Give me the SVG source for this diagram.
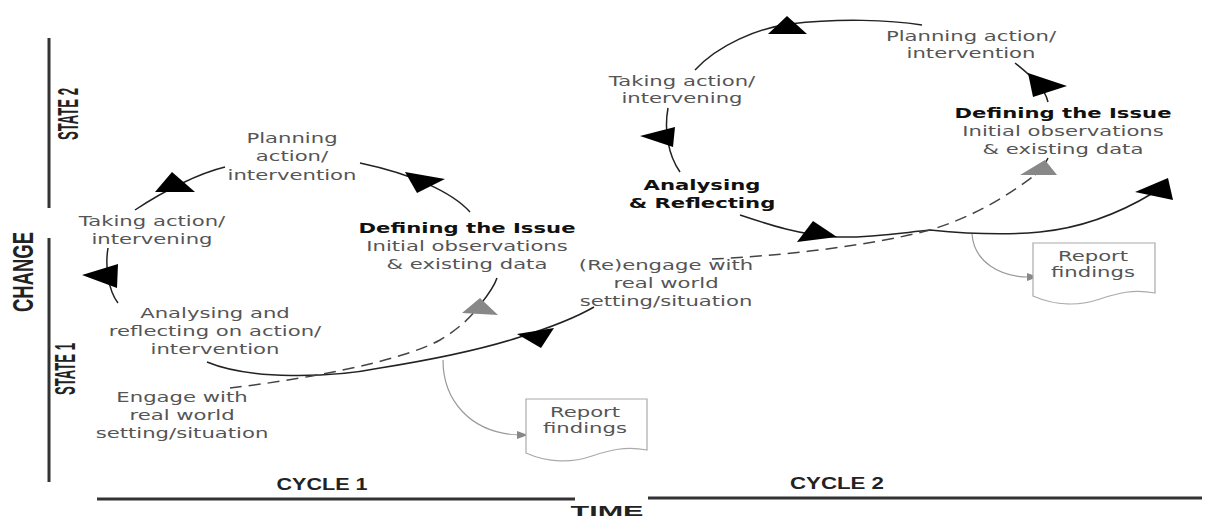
<svg xmlns="http://www.w3.org/2000/svg" width="1206" height="518" viewBox="0 0 1206 518">
<style>
 .t{font-family:"DejaVu Sans",Verdana,sans-serif;font-size:13.5px;fill:#555;text-anchor:middle}
 .b{font-weight:bold;fill:#111}
 .ax{font-family:"Liberation Sans",Arial,sans-serif;font-weight:bold;fill:#222;text-anchor:middle}
 .ln{fill:none;stroke:#222;stroke-width:1.5}
 .ds{fill:none;stroke:#444;stroke-width:1.5;stroke-dasharray:12 7}
 .gl{fill:none;stroke:#999;stroke-width:1.2}
 .ah{fill:#000}
 .ag{fill:#888}
 .doc{fill:#fff;stroke:#aaa;stroke-width:1.2}
 .axl{stroke:#333;stroke-width:3}
</style>
<rect width="1206" height="518" fill="#fff"/>
<g id="axes">
 <line class="axl" x1="49" y1="38" x2="49" y2="208"/>
 <line class="axl" x1="49" y1="238" x2="49" y2="482"/>
 <line class="axl" x1="97" y1="499" x2="575" y2="499"/>
 <line class="axl" x1="648" y1="498" x2="1202" y2="498"/>
 <text class="ax" font-size="29" transform="translate(78,114) rotate(-90)" textLength="52" lengthAdjust="spacingAndGlyphs">STATE 2</text>
 <text class="ax" font-size="29" transform="translate(33,272) rotate(-90)" textLength="80" lengthAdjust="spacingAndGlyphs">CHANGE</text>
 <text class="ax" font-size="29" transform="translate(75,369) rotate(-90)" textLength="52" lengthAdjust="spacingAndGlyphs">STATE 1</text>
 <text class="ax" font-size="16.5" x="322" y="490" textLength="91" lengthAdjust="spacingAndGlyphs">CYCLE 1</text>
 <text class="ax" font-size="16.5" x="837" y="489" textLength="94" lengthAdjust="spacingAndGlyphs">CYCLE 2</text>
 <text class="ax" font-size="15.5" x="607" y="516" textLength="73" lengthAdjust="spacingAndGlyphs">TIME</text>
</g>
<g id="connectors">
 <path class="ln" d="M470,212 C452,192 412,174 360,163"/>
 <path class="ln" d="M225,167 C200,173 165,190 135,210"/>
 <path class="ln" d="M108,248 C105,266 108,290 118,303"/>
 <path class="ln" d="M207,362 C250,380 330,378 380,368 C430,360 480,350 520,337 C552,327 575,318 594,307"/>
 <path class="ds" d="M230,388 C300,380 400,362 440,340 C460,328 472,316 480,305"/>
 <path class="ln" d="M480,305 C488,295 494,287 497,278"/>
 <path class="ln" d="M695,70 C718,45 758,28 790,24 C840,18 890,20 922,25"/>
 <path class="ln" d="M1015,63 C1030,75 1045,88 1048,102"/>
 <path class="ln" d="M668,108 C664,130 668,155 680,172"/>
 <path class="ln" d="M740,215 C770,225 800,235 837,237 C870,238 900,233 930,230 C960,233 1000,236 1040,232 C1080,228 1120,213 1153,193"/>
 <path class="ds" d="M712,259 C780,256 870,246 930,230 C970,218 1005,198 1035,175"/>
 <path class="ln" d="M1035,175 C1040,170 1045,165 1048,158"/>
 <path class="gl" d="M443,360 C443,400 470,433 519,435"/>
 <path class="gl" d="M972,234 C974,262 1000,277 1029,277"/>
 <polygon class="ah" points="172,172 155,192 195,192"/>
 <polygon class="ah" points="405,172 445,179 417,193"/>
 <polygon class="ah" points="82,275 118,264 117,288"/>
 <polygon class="ag" points="462,313 480,298 498,315"/>
 <polygon class="ah" points="517,334 554,328 541,348"/>
 <polygon class="ah" points="787,16 768,34 807,34"/>
 <polygon class="ah" points="640,136 675,127 673,147"/>
 <polygon class="ah" points="813,221 797,242 837,237"/>
 <polygon class="ah" points="1028,73 1067,86 1033,97"/>
 <polygon class="ag" points="1020,175 1045,160 1057,175"/>
 <polygon class="ah" points="1135,192 1168,178 1173,200"/>
 <polygon class="ag" points="517,431 528,435 517,439"/>
 <polygon class="ag" points="1027,273 1038,277 1027,281"/>
</g>
<g id="c1-plan"><text class="t" transform="translate(292,143) scale(1.57,1)"><tspan x="0">Planning</tspan><tspan x="0" dy="18.5">action/</tspan><tspan x="0" dy="18.5">intervention</tspan></text></g>
<g id="c1-take"><text class="t" transform="translate(152,226) scale(1.57,1)"><tspan x="0">Taking action/</tspan><tspan x="0" dy="18">intervening</tspan></text></g>
<g id="c1-define"><text class="t" transform="translate(467,233) scale(1.57,1)"><tspan x="0" class="b">Defining the Issue</tspan><tspan x="0" dy="18">Initial observations</tspan><tspan x="0" dy="18">&amp; existing data</tspan></text></g>
<g id="c1-analyse"><text class="t" transform="translate(215,318) scale(1.57,1)"><tspan x="0">Analysing and</tspan><tspan x="0" dy="18">reflecting on action/</tspan><tspan x="0" dy="18">intervention</tspan></text></g>
<g id="c1-engage"><text class="t" transform="translate(182,402) scale(1.57,1)"><tspan x="0">Engage with</tspan><tspan x="0" dy="18">real world</tspan><tspan x="0" dy="18">setting/situation</tspan></text></g>
<g id="c1-reengage"><text class="t" transform="translate(666,270) scale(1.57,1)"><tspan x="0">(Re)engage with</tspan><tspan x="0" dy="18">real world</tspan><tspan x="0" dy="18">setting/situation</tspan></text></g>
<g id="c1-report">
 <path class="doc" d="M526,399 H647 V450 C625,446 610,450 592,456 C572,463 548,463 526,453 Z"/>
 <text class="t" transform="translate(585,417) scale(1.57,1)"><tspan x="0">Report</tspan><tspan x="0" dy="16">findings</tspan></text>
</g>
<g id="c2-plan"><text class="t" transform="translate(971,41) scale(1.57,1)"><tspan x="0">Planning action/</tspan><tspan x="0" dy="17">intervention</tspan></text></g>
<g id="c2-define"><text class="t" transform="translate(1063,118) scale(1.57,1)"><tspan x="0" class="b">Defining the Issue</tspan><tspan x="0" dy="18">Initial observations</tspan><tspan x="0" dy="18">&amp; existing data</tspan></text></g>
<g id="c2-take"><text class="t" transform="translate(682,86) scale(1.57,1)"><tspan x="0">Taking action/</tspan><tspan x="0" dy="17">intervening</tspan></text></g>
<g id="c2-analyse"><text class="t b" transform="translate(702,190) scale(1.57,1)"><tspan x="0">Analysing</tspan><tspan x="0" dy="18">&amp; Reflecting</tspan></text></g>
<g id="c2-report">
 <path class="doc" d="M1033,243 H1155 V293 C1133,289 1118,293 1100,299 C1080,306 1056,306 1033,296 Z"/>
 <text class="t" transform="translate(1093,261) scale(1.57,1)"><tspan x="0">Report</tspan><tspan x="0" dy="16">findings</tspan></text>
</g>
</svg>
